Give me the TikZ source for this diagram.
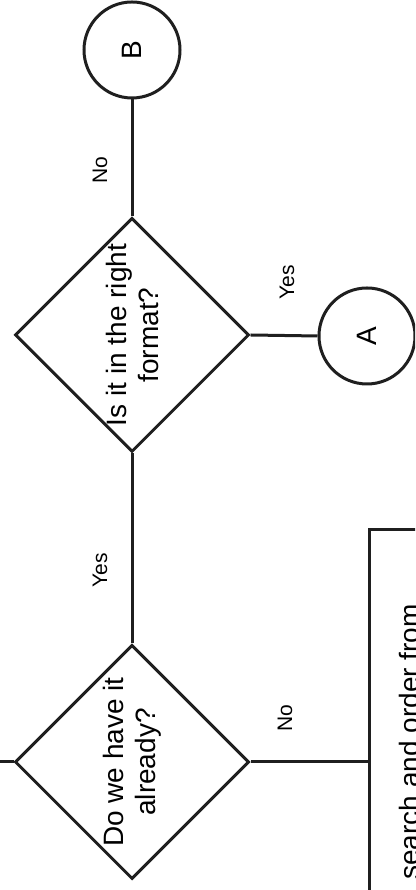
\documentclass[tikz,border=0pt]{standalone}
\usepackage{fontspec}
\setmainfont{Liberation Sans}
\usetikzlibrary{shapes.geometric}
\begin{document}
\begin{tikzpicture}[x=1pt,y=1pt,
  line width=3pt, draw=black!88,
  decision/.style={draw, shape=diamond, inner sep=0pt, minimum width=234pt, minimum height=234pt},
  connector/.style={draw, circle, inner sep=0pt, minimum size=96pt, font=\fontsize{28}{32}\selectfont},
  qtext/.style={rotate=90, align=center, inner sep=0pt, font=\fontsize{28}{32}\selectfont},
  edgelabel/.style={rotate=90, inner sep=0pt, font=\fontsize{21}{24}\selectfont},
  wire/.style={draw, line width=3pt}]
\useasboundingbox (0,0) rectangle (415,890);
\clip (0,0) rectangle (415,890);

% decisions
\node[decision] (have) at (132,128) {};
\node[qtext] (haveText) at (have) {Do we have it\\already?};
\node[decision] (format) at (132,555) {};
\node[qtext] (formatText) at (format) {Is it in the right\\format?};

% off-page connectors
\node[connector] (conA) at (367,554) {\rotatebox{90}{A}};
\node[connector] (conB) at (132,840) {\rotatebox{90}{B}};

% process box running off the page
\node[draw, anchor=north west, inner sep=0pt, minimum width=120pt, minimum height=420pt] (order) at (368,362) {};
\node[rotate=90, anchor=north, inner sep=0pt, font=\fontsize{28}{32}\selectfont] (orderText) at (398,148) {search and order from};

% incoming line from the left
\coordinate (inL) at (-10,128);

% connectors
\draw[wire] (inL) -- (have.west);
\draw[wire] (have.north) -- (format.south);
\draw[wire] (have.east) -- (order.west |- have.east);
\draw[wire] (format.east) -- (conA.west);
\draw[wire] (format.north) -- (conB.south);

% branch labels
\node[edgelabel] (lblYes1) at (100,320) {Yes};
\node[edgelabel] (lblNo1) at (285,172) {No};
\node[edgelabel] (lblYes2) at (287,608) {Yes};
\node[edgelabel] (lblNo2) at (100,720) {No};
\end{tikzpicture}
\end{document}
